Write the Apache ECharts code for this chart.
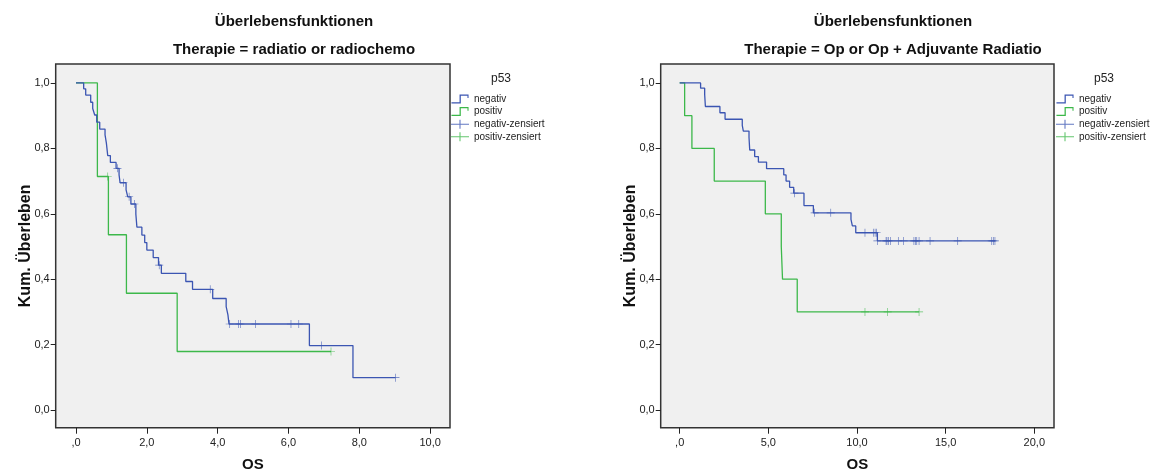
<!DOCTYPE html>
<html>
<head>
<meta charset="utf-8">
<script src="https://cdn.jsdelivr.net/npm/echarts@6/dist/echarts.min.js"></script>
<style>
html,body{margin:0;padding:0;background:#fff;}
#c{width:1158px;height:472px;}
</style>
</head>
<body>
<div id="c"></div>
<script>
// ---------- DATA ----------
const chartTitle = 'Überlebensfunktionen';
const leftSubtitle = 'Therapie = radiatio or radiochemo';
const rightSubtitle = 'Therapie = Op or Op + Adjuvante Radiatio';
const legendTitle = 'p53';
const seriesNames = ['negativ', 'positiv', 'negativ-zensiert', 'positiv-zensiert'];
const yAxisTitle = 'Kum. Überleben';
const xAxisTitle = 'OS';

const yTicks = [0, 0.2, 0.4, 0.6, 0.8, 1.0];
const yTickLabels = ['0,0', '0,2', '0,4', '0,6', '0,8', '1,0'];
const leftXTicks = [0, 2, 4, 6, 8, 10];
const leftXTickLabels = [',0', '2,0', '4,0', '6,0', '8,0', '10,0'];
const rightXTicks = [0, 5, 10, 15, 20];
const rightXTickLabels = [',0', '5,0', '10,0', '15,0', '20,0'];

// Left panel (radiatio or radiochemo): [time, survival]
const leftNegativ = [[0,1],[0.217,0.982],[0.274,0.963],[0.415,0.941],[0.472,0.922],[0.528,0.902],[0.585,0.880],[0.670,0.859],[0.820,0.841],[0.858,0.816],[0.896,0.778],[0.971,0.757],[1.132,0.739],[1.216,0.719],[1.245,0.695],[1.414,0.673],[1.462,0.652],[1.55,0.630],[1.69,0.599],[1.72,0.559],[1.86,0.535],[1.94,0.512],[2.00,0.489],[2.18,0.466],[2.33,0.443],[2.41,0.418],[3.10,0.393],[3.29,0.369],[3.86,0.341],[4.24,0.316],[4.29,0.291],[4.32,0.263],[6.59,0.197],[7.82,0.099],[9.02,0.099]];
const leftNegativCensored = [[1.17,0.739],[1.34,0.695],[1.50,0.652],[1.65,0.630],[2.35,0.443],[3.79,0.369],[4.34,0.263],[4.59,0.263],[4.64,0.263],[5.07,0.263],[6.07,0.263],[6.29,0.263],[6.93,0.197],[9.02,0.099]];
const leftPositiv = [[0,1],[0.604,0.714],[0.915,0.536],[1.424,0.357],[2.857,0.179],[7.20,0.179]];
const leftPositivCensored = [[0.896,0.714],[7.20,0.179]];

// Right panel (Op or Op + Adjuvante Radiatio)
const rightNegativ = [[0,1],[1.18,0.984],[1.41,0.965],[1.45,0.928],[2.27,0.909],[2.56,0.889],[3.53,0.870],[3.59,0.853],[3.91,0.834],[3.95,0.795],[4.23,0.775],[4.44,0.758],[4.90,0.738],[5.87,0.719],[6.00,0.700],[6.20,0.681],[6.43,0.663],[7.01,0.625],[7.54,0.603],[9.66,0.583],[9.74,0.563],[9.93,0.542],[11.15,0.517],[17.8,0.517]];
const rightNegativCensored = [[6.47,0.663],[7.61,0.603],[8.52,0.603],[10.45,0.542],[10.92,0.542],[11.02,0.542],[11.11,0.542],[11.15,0.517],[11.64,0.517],[11.69,0.517],[11.77,0.517],[11.88,0.517],[12.33,0.517],[12.63,0.517],[13.21,0.517],[13.29,0.517],[13.37,0.517],[13.50,0.517],[14.12,0.517],[15.68,0.517],[17.60,0.517],[17.69,0.517],[17.78,0.517]];
const rightPositiv = [[0,1],[0.28,0.9],[0.69,0.8],[1.95,0.7],[4.83,0.6],[5.73,0.5],[5.80,0.4],[6.63,0.3],[13.50,0.3]];
const rightPositivCensored = [[10.45,0.3],[11.73,0.3],[13.50,0.3]];

// ---------- STYLE ----------
const BLUE = '#3b55b2';
const GREEN = '#3cb84a';
const FONT = 'Liberation Sans, Arial, sans-serif';
const CROSS = 'path://M-0.08,-1 L0.08,-1 L0.08,-0.08 L1,-0.08 L1,0.08 L0.08,0.08 L0.08,1 L-0.08,1 L-0.08,0.08 L-1,0.08 L-1,-0.08 L-0.08,-0.08 Z';
const STEP_ICON = 'path://M0,8.6 L9,8.6 L9,0 L19,0 L19,4 L17.8,4 L17.8,1.4 L10.4,1.4 L10.4,10 L0,10 Z';
const CROSS_ICON = 'path://M0,4.4 L9.4,4.4 L9.4,0 L10.6,0 L10.6,4.4 L20,4.4 L20,5.6 L10.6,5.6 L10.6,10 L9.4,10 L9.4,5.6 L0,5.6 Z';

const panels = [
  {left: 55.7, width: 394.3, xmin: -0.573, xmax: 10.56, ticks: leftXTicks, labels: leftXTickLabels,
   neg: leftNegativ, negC: leftNegativCensored, pos: leftPositiv, posC: leftPositivCensored,
   titleX: 294, subtitle: leftSubtitle, legendLeft: 451, legendTitleX: 501},
  {left: 660.7, width: 393.3, xmin: -1.07, xmax: 21.11, ticks: rightXTicks, labels: rightXTickLabels,
   neg: rightNegativ, negC: rightNegativCensored, pos: rightPositiv, posC: rightPositivCensored,
   titleX: 893, subtitle: rightSubtitle, legendLeft: 1056, legendTitleX: 1104}
];

const grids = [], xAxes = [], yAxes = [], series = [], legends = [], graphics = [];
panels.forEach((p, i) => {
  grids.push({left: p.left, top: 64, width: p.width, height: 363.7, show: true,
    backgroundColor: '#f0f0f0', borderColor: '#333', borderWidth: 1.5, containLabel: false,
    outerBoundsMode: 'none'});
  xAxes.push({type: 'value', gridIndex: i, min: p.xmin, max: p.xmax,
    name: xAxisTitle, nameLocation: 'middle', nameGap: 30, nameMoveOverlap: false,
    nameTextStyle: {fontFamily: FONT, fontWeight: 'bold', fontSize: 15, color: '#111'},
    axisLine: {show: false, onZero: false}, splitLine: {show: false},
    axisTick: {show: true, customValues: p.ticks, length: 6, lineStyle: {color: '#222', width: 1}},
    axisLabel: {customValues: p.ticks, margin: 10, fontFamily: FONT, fontSize: 11, color: '#222',
      formatter: v => p.labels[p.ticks.indexOf(v)] ?? ''}});
  yAxes.push({type: 'value', gridIndex: i, min: -0.054, max: 1.058,
    name: yAxisTitle, nameLocation: 'middle', nameGap: 22, nameRotate: 90, nameMoveOverlap: false,
    nameTextStyle: {fontFamily: FONT, fontWeight: 'bold', fontSize: 16, color: '#111'},
    axisLine: {show: false, onZero: false}, splitLine: {show: false},
    axisTick: {show: true, customValues: yTicks, length: 5, lineStyle: {color: '#222', width: 1}},
    axisLabel: {customValues: yTicks, margin: 6, fontFamily: FONT, fontSize: 11, color: '#222',
      formatter: v => { const k = yTicks.findIndex(t => Math.abs(t - v) < 1e-9); return k >= 0 ? yTickLabels[k] : ''; }}});
  const common = {xAxisIndex: i, yAxisIndex: i, animation: false, silent: true};
  series.push({...common, type: 'line', name: seriesNames[0], data: p.neg, step: 'end', symbol: 'none',
    color: BLUE, lineStyle: {color: BLUE, width: 1.3}, itemStyle: {color: BLUE}, z: 3});
  series.push({...common, type: 'line', name: seriesNames[1], data: p.pos, step: 'end', symbol: 'none',
    color: GREEN, lineStyle: {color: GREEN, width: 1.3}, itemStyle: {color: GREEN}, z: 2});
  series.push({...common, type: 'scatter', name: seriesNames[2], data: p.negC, symbol: CROSS, symbolSize: 8,
    color: BLUE, itemStyle: {color: BLUE}, z: 4});
  series.push({...common, type: 'scatter', name: seriesNames[3], data: p.posC, symbol: CROSS, symbolSize: 8,
    color: GREEN, itemStyle: {color: GREEN}, z: 4});
  legends.push({orient: 'vertical', left: p.legendLeft, top: 94, padding: 0, itemWidth: 18, itemHeight: 9, itemGap: 2.6,
    selectedMode: false, textStyle: {fontFamily: FONT, fontSize: 10, color: '#222'},
    data: [
      {name: seriesNames[0], icon: STEP_ICON},
      {name: seriesNames[1], icon: STEP_ICON},
      {name: seriesNames[2], icon: CROSS_ICON},
      {name: seriesNames[3], icon: CROSS_ICON}
    ]});
  graphics.push({type: 'text', x: p.titleX, y: 22, style: {text: chartTitle, fontFamily: FONT, fontWeight: 'bold', fontSize: 15, fill: '#111', textAlign: 'center', textVerticalAlign: 'middle'}});
  graphics.push({type: 'text', x: p.titleX, y: 50, style: {text: p.subtitle, fontFamily: FONT, fontWeight: 'bold', fontSize: 15, fill: '#111', textAlign: 'center', textVerticalAlign: 'middle'}});
  graphics.push({type: 'text', x: p.legendTitleX, y: 79, style: {text: legendTitle, fontFamily: FONT, fontSize: 12, fill: '#222', textAlign: 'center', textVerticalAlign: 'middle'}});
});

const chart = echarts.init(document.getElementById('c'), null, {renderer: 'canvas'});
chart.setOption({
  backgroundColor: '#ffffff',
  animation: false,
  grid: grids, xAxis: xAxes, yAxis: yAxes, series: series, legend: legends, graphic: graphics
});
</script>
</body>
</html>
